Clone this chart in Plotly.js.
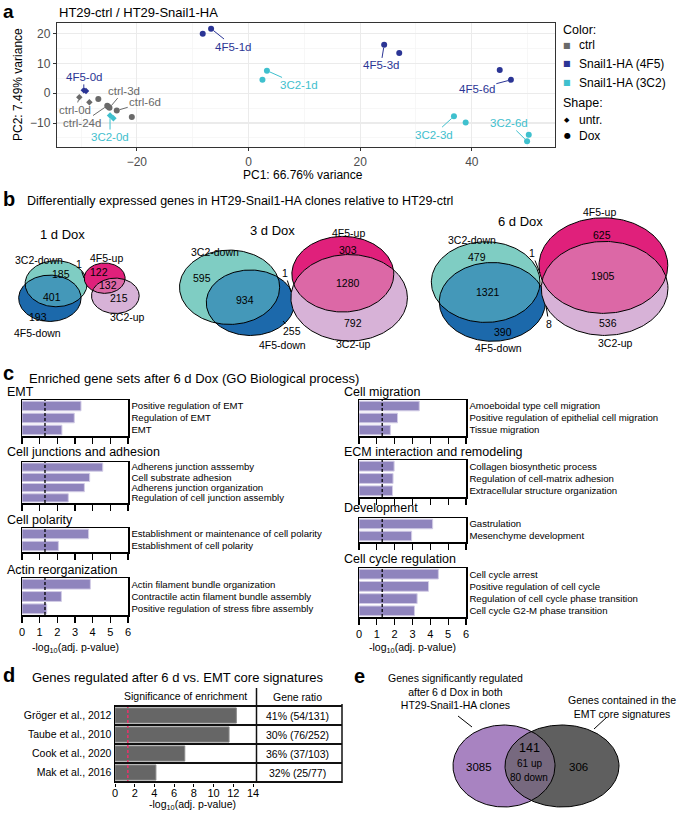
<!DOCTYPE html>
<html>
<head>
<meta charset="utf-8">
<script src="https://cdn.plot.ly/plotly-3.0.1.min.js"></script>
<style>body{margin:0;background:#fff}#fig{width:685px;height:813px}</style>
</head>
<body>
<div id="fig"></div>
<script>
const FONT = 'Liberation Sans, Arial, sans-serif';

// ---- a: PCA
const ctrlUntrX = [-30.3, -28.5], ctrlUntrY = [-1.3, -3.0];
const ctrlDoxX = [-26.9, -25.3, -24.9, -25.1, -23.6, -20.9], ctrlDoxY = [-1.9, -4.2, -4.9, -4.5, -5.8, -8.0];
const f4UntrX = [-29.5, -29.1], f4UntrY = [1.0, 0.8];
const f4DoxX = [-8.2, -6.7, 24.3, 27.0, 45.0, 47.0], f4DoxY = [20.0, 21.7, 16.3, 13.5, 7.8, 4.5];
const c3UntrX = [-24.8, -24.2], c3UntrY = [-7.5, -8.4];
const c3DoxX = [3.3, 2.5, 36.8, 38.9, 50.2, 49.9], c3DoxY = [7.6, 4.5, -7.75, -9.8, -13.9, -16.1];
// label text, label position, which point it points at
const pcaLab = ['4F5-1d', '4F5-3d', '4F5-6d', '3C2-1d', '3C2-3d', '3C2-6d', '4F5-0d', '3C2-0d', 'ctrl-0d', 'ctrl-24d', 'ctrl-3d', 'ctrl-6d'];
const pcaLabX = [-2.7, 23.7, 40.9, 9.0, 33.2, 46.6, -29.5, -24.8, -31.0, -29.8, -22.3, -18.5];
const pcaLabY = [15.7, 9.35, 1.5, 2.8, -13.9, -10.0, 5.5, -14.7, -5.6, -10.0, 0.9, -3.0];
const pcaLabGrp = ['f4Dox', 'f4Dox', 'f4Dox', 'c3Dox', 'c3Dox', 'c3Dox', 'f4Untr', 'c3Untr', 'ctrlUntr', 'ctrlDox', 'ctrlDox', 'ctrlDox'];
const pcaLabIdx = [1, 2, 5, 0, 2, 5, 0, 0, 0, 1, 2, 4];
const legColNames = ['ctrl', 'Snail1-HA (4F5)', 'Snail1-HA (3C2)'];
const legShapeNames = ['untr.', 'Dox'];

// ---- b: DEG overlaps
const days = ['1 d Dox', '3 d Dox', '6 d Dox'];
const dn3C2only = [185, 595, 479];
const dnBoth = [401, 934, 1321];
const dn4F5only = [193, 255, 390];
const up4F5only = [122, 303, 625];
const upBoth = [132, 1280, 1905];
const up3C2only = [215, 792, 536];
const crossTop = [1, 1, 1];   // 3C2-down & 4F5-up
const crossBot = [0, 0, 8];   // 4F5-down & 3C2-up

// ---- c: GO enrichment, -log10(adj. p)
const emtTerms = ['Positive regulation of EMT', 'Regulation of EMT', 'EMT'];
const emtVals = [3.34, 2.96, 2.26];
const cjTerms = ['Adherens junction asssemby', 'Cell substrate adhesion', 'Adherens junction organization', 'Regulation of cell junction assembly'];
const cjVals = [4.57, 3.83, 3.53, 2.62];
const cpTerms = ['Establishment or maintenance of cell polarity', 'Establishment of cell polarity'];
const cpVals = [3.77, 2.06];
const arTerms = ['Actin filament bundle organization', 'Contractile actin filament bundle assembly', 'Positive regulation of stress fibre assembly'];
const arVals = [3.87, 2.23, 1.40];
const cmTerms = ['Amoeboidal type cell migration', 'Positive regulation of epithelial cell migration', 'Tissue migration'];
const cmVals = [3.38, 2.16, 1.76];
const ecmTerms = ['Collagen biosynthetic process', 'Regulation of cell-matrix adhesion', 'Extracellular structure organization'];
const ecmVals = [1.97, 1.91, 1.88];
const devTerms = ['Gastrulation', 'Mesenchyme development'];
const devVals = [4.13, 2.95];
const ccTerms = ['Cell cycle arrest', 'Positive regulation of cell cycle', 'Regulation of cell cycle phase transition', 'Cell cycle G2-M phase transition'];
const ccVals = [4.45, 3.90, 3.26, 3.11];
const SIG = -Math.log10(0.05);

// ---- d: EMT core signatures
const sigRefs = ['Gröger et al., 2012', 'Taube et al., 2010', 'Cook et al., 2020', 'Mak et al., 2016'];
const sigVals = [12.31, 11.57, 7.08, 4.15];
const sigRatio = ['41% (54/131)', '30% (76/252)', '36% (37/103)', '32% (25/77)'];

// ---- e: overlap with signatures
const eOnlyDeg = 3085, eBoth = 141, eBothUp = 61, eBothDown = 80, eOnlySig = 306;

const GREY = '#6a6a6a', BLUE = '#2b3595', CYAN = '#3fc0ce';
const dx = (l, r) => [l / 685, r / 685];
const dy = (t, b) => [1 - b / 813, 1 - t / 813];
const OX = 'x11', OY = 'y11';

const traces = [];
const ann = [];
const shapes = [];

function T(x, y, text, size, o) {
  const a = {xref: OX, yref: OY, x: x, y: y, text: text, showarrow: false,
    xanchor: 'left', yanchor: 'middle', font: {family: FONT, size: size, color: '#000'}};
  return Object.assign(a, o || {});
}

// panel a traces
const groups = {
  ctrlUntr: [ctrlUntrX, ctrlUntrY, GREY, 'diamond', 5],
  ctrlDox: [ctrlDoxX, ctrlDoxY, GREY, 'circle', 6],
  f4Untr: [f4UntrX, f4UntrY, BLUE, 'diamond', 5],
  f4Dox: [f4DoxX, f4DoxY, BLUE, 'circle', 6],
  c3Untr: [c3UntrX, c3UntrY, CYAN, 'diamond', 5],
  c3Dox: [c3DoxX, c3DoxY, CYAN, 'circle', 6]
};
for (const k in groups) {
  const g = groups[k];
  traces.push({type: 'scatter', mode: 'markers', x: g[0], y: g[1], xaxis: 'x', yaxis: 'y',
    marker: {color: g[2], symbol: g[3], size: g[4]}, hoverinfo: 'skip'});
}
pcaLab.forEach((t, i) => {
  const g = groups[pcaLabGrp[i]];
  ann.push({xref: 'x', yref: 'y', axref: 'x', ayref: 'y',
    x: g[0][pcaLabIdx[i]], y: g[1][pcaLabIdx[i]], ax: pcaLabX[i], ay: pcaLabY[i],
    text: t, showarrow: true, arrowhead: 0, arrowwidth: 1, arrowcolor: g[2], standoff: 3,
    font: {family: FONT, size: 11.5, color: g[2]}});
});
ann.push(T(1, 11, '<b>a</b>', 19));
ann.push(T(57, 12, 'HT29-ctrl / HT29-Snail1-HA', 13));
ann.push(T(303, 175, 'PC1: 66.76% variance', 12, {xanchor: 'center'}));
ann.push(T(18, 85, 'PC2: 7.49% variance', 12, {xanchor: 'center', textangle: -90}));
// legend
ann.push(T(561, 30, 'Color:', 12.5));
[GREY, BLUE, CYAN].forEach((c, i) => {
  ann.push(T(567, 45 + i * 18.8, '■', 8, {xanchor: 'center', font: {family: 'DejaVu Sans', size: 8, color: c}}));
  ann.push(T(577, 45 + i * 18.8, legColNames[i], 12));
});
ann.push(T(561, 103, 'Shape:', 12.5));
['◆', '●'].forEach((s, i) => {
  ann.push(T(567, 120 + i * 15.5, s, i ? 8 : 7, {xanchor: 'center', font: {family: 'DejaVu Sans', size: i ? 8 : 7, color: '#000'}}));
  ann.push(T(577, 120 + i * 15.5, legShapeNames[i], 12));
});

// ---- panel b venns (area proportional pairs, drawn as ellipses)
const KX = 1.28, KY = 0.95, SPREAD = 1.3;
function lens(r1, r2, d) {
  if (d >= r1 + r2) return 0;
  if (d <= Math.abs(r1 - r2)) return Math.PI * Math.min(r1, r2) ** 2;
  const a = r1 * r1 * Math.acos((d * d + r1 * r1 - r2 * r2) / (2 * d * r1));
  const b = r2 * r2 * Math.acos((d * d + r2 * r2 - r1 * r1) / (2 * d * r2));
  const c = 0.5 * Math.sqrt((-d + r1 + r2) * (d + r1 - r2) * (d - r1 + r2) * (d + r1 + r2));
  return a + b - c;
}
function centreDist(n1, n2, n12) {
  const r1 = Math.sqrt(n1), r2 = Math.sqrt(n2);
  let lo = Math.abs(r1 - r2), hi = r1 + r2;
  for (let i = 0; i < 60; i++) {
    const m = (lo + hi) / 2;
    if (lens(r1, r2, m) > Math.PI * n12) lo = m; else hi = m;
  }
  return (lo + hi) / 2;
}
function vennPair(mid, dir, nA, nB, nAB) {
  const d = SPREAD * centreDist(nA, nB, nAB);
  const L = Math.hypot(dir[0], dir[1]);
  const ox = KX * d * dir[0] / L / 2, oy = KY * d * dir[1] / L / 2;
  const rA = Math.sqrt(nA), rB = Math.sqrt(nB);
  return [{cx: mid[0] - ox, cy: mid[1] - oy, rx: KX * rA, ry: KY * rA},
          {cx: mid[0] + ox, cy: mid[1] + oy, rx: KX * rB, ry: KY * rB}];
}
function ellPts(e, n) {
  const xs = [], ys = [];
  for (let i = 0; i <= n; i++) {
    const t = 2 * Math.PI * i / n;
    xs.push(e.cx + e.rx * Math.cos(t)); ys.push(e.cy + e.ry * Math.sin(t));
  }
  return [xs, ys];
}
function inside(e, x, y) {
  const a = (x - e.cx) / e.rx, b = (y - e.cy) / e.ry;
  return a * a + b * b <= 1;
}
function interPts(A, B, n) {
  const p = [];
  for (let i = 0; i < n; i++) {
    const t = 2 * Math.PI * i / n;
    let x = A.cx + A.rx * Math.cos(t), y = A.cy + A.ry * Math.sin(t);
    if (inside(B, x, y)) p.push([x, y]);
    x = B.cx + B.rx * Math.cos(t); y = B.cy + B.ry * Math.sin(t);
    if (inside(A, x, y)) p.push([x, y]);
  }
  const mx = p.reduce((s, q) => s + q[0], 0) / p.length;
  const my = p.reduce((s, q) => s + q[1], 0) / p.length;
  p.sort((a, b) => Math.atan2(a[1] - my, a[0] - mx) - Math.atan2(b[1] - my, b[0] - mx));
  p.push(p[0]);
  return [p.map(q => q[0]), p.map(q => q[1])];
}
function drawPair(A, B, cA, cB, cAB) {
  [[A, cA], [B, cB]].forEach(([e, c]) => {
    const [xs, ys] = ellPts(e, 200);
    traces.push({type: 'scatter', mode: 'lines', x: xs, y: ys, xaxis: OX, yaxis: OY, fill: 'toself',
      fillcolor: c, line: {width: 0, color: c}, hoverinfo: 'skip'});
  });
  const [ix, iy] = interPts(A, B, 720);
  traces.push({type: 'scatter', mode: 'lines', x: ix, y: iy, xaxis: OX, yaxis: OY, fill: 'toself',
    fillcolor: cAB, line: {width: 0, color: cAB}, hoverinfo: 'skip'});
  [A, B].forEach(e => {
    const [xs, ys] = ellPts(e, 200);
    traces.push({type: 'scatter', mode: 'lines', x: xs, y: ys, xaxis: OX, yaxis: OY,
      line: {width: 1, color: '#000'}, hoverinfo: 'skip'});
  });
}

// placement of the three diagrams (pixel midpoints and directions)
const dnMid = [[53, 291], [240, 295], [489, 292]];
const dnDir = [[-0.32, 1], [1, 1], [0.25, 1]];
const upMid = [[110, 287], [346, 286], [604, 277]];
const upDir = [[0.45, 1], [0.2, 1], [0.04, 1]];
const dayTitlePos = [[62, 234], [272, 230], [520, 221]];
const setLabPos = [
  [[39, 260], [37, 333], [106, 258], [127, 317]],
  [[215, 252], [282, 345], [348, 233], [353, 344]],
  [[472, 240], [498, 348], [599, 212], [615, 343]]];
const cntPos = [
  [[61, 274], [52, 297], [38, 317], [99, 272], [108, 285], [119, 298]],
  [[202, 278], [245, 300], [292, 331], [348, 250], [348, 283], [353, 323]],
  [[477, 257], [488, 292], [503, 332], [602, 235], [603, 276], [608, 323]]];

for (let i = 0; i < 3; i++) {
  const [A, B] = vennPair(dnMid[i], dnDir[i], dn3C2only[i] + dnBoth[i] + crossTop[i], dn4F5only[i] + dnBoth[i] + crossBot[i], dnBoth[i]);
  drawPair(A, B, '#7fcdc3', '#1c69ab', '#4498b9');
  const [C, D] = vennPair(upMid[i], upDir[i], up4F5only[i] + upBoth[i] + crossTop[i], up3C2only[i] + upBoth[i] + crossBot[i], upBoth[i]);
  drawPair(C, D, '#e0207b', '#d7b2d7', '#dc68a6');
  ann.push(T(dayTitlePos[i][0], dayTitlePos[i][1], days[i], 13, {xanchor: 'center'}));
  ['3C2-down', '4F5-down', '4F5-up', '3C2-up'].forEach((s, j) => {
    ann.push(T(setLabPos[i][j][0], setLabPos[i][j][1], s, 10.5, {xanchor: 'center'}));
  });
  [dn3C2only[i], dnBoth[i], dn4F5only[i], up4F5only[i], upBoth[i], up3C2only[i]].forEach((n, j) => {
    if (i === 1 && j === 2) return;
    ann.push(T(cntPos[i][j][0], cntPos[i][j][1], String(n), 10.5, {xanchor: 'center'}));
  });
}
function lead(tx, ty, lx, ly, text) {
  ann.push({xref: OX, yref: OY, axref: OX, ayref: OY, x: tx, y: ty, ax: lx, ay: ly, text: text,
    showarrow: true, arrowhead: 0, arrowwidth: 1, arrowcolor: '#000', standoff: 0,
    font: {family: FONT, size: 10.5, color: '#000'}});
}
lead(84, 278, 79, 264, String(crossTop[0]));
lead(291, 292, 285, 273, String(crossTop[1]));
lead(540, 273, 532, 253, String(crossTop[2]));
lead(283, 321, 292, 331, String(dn4F5only[1]));
lead(546, 306, 549, 324, String(crossBot[2]));
ann.push(T(1, 199, '<b>b</b>', 20));
ann.push(T(25, 201, 'Differentially expressed genes in HT29-Snail1-HA clones relative to HT29-ctrl', 12.5));

// ---- panel c bars
const cPanels = [
  ['EMT', emtTerms, emtVals, 22, 128, 400, 436, 392],
  ['Cell junctions and adhesion', cjTerms, cjVals, 22, 128, 462, 503, 452],
  ['Cell polarity', cpTerms, cpVals, 22, 128, 528, 552, 520],
  ['Actin reorganization', arTerms, arVals, 22, 128, 578, 615, 570],
  ['Cell migration', cmTerms, cmVals, 359, 466, 400, 436, 392],
  ['ECM interaction and remodeling', ecmTerms, ecmVals, 359, 466, 460, 497, 452],
  ['Development', devTerms, devVals, 359, 466, 518, 542, 508],
  ['Cell cycle regulation', ccTerms, ccVals, 359, 466, 568, 617, 559]
];
const layout = {
  width: 685, height: 813, margin: {l: 0, r: 0, t: 0, b: 0},
  paper_bgcolor: '#fff', plot_bgcolor: 'rgba(0,0,0,0)', showlegend: false,
  font: {family: FONT, size: 11, color: '#000'},
  xaxis: {domain: dx(57, 555), range: [-34.3, 54.9], dtick: 20, anchor: 'y',
    showgrid: true, gridcolor: '#ebebeb', gridwidth: 1.1, zeroline: false,
    minor: {dtick: 10, showgrid: true, gridcolor: '#f4f4f4', gridwidth: 0.7},
    showline: true, mirror: true, linecolor: '#333', linewidth: 1.2,
    ticks: 'outside', ticklen: 3, tickcolor: '#333', tickfont: {size: 12, color: '#4d4d4d'}},
  yaxis: {domain: dy(23, 147), range: [-18.05, 23.6], dtick: 10, anchor: 'x',
    showgrid: true, gridcolor: '#ebebeb', gridwidth: 1.1, zeroline: false,
    minor: {dtick: 5, showgrid: true, gridcolor: '#f4f4f4', gridwidth: 0.7},
    showline: true, mirror: true, linecolor: '#333', linewidth: 1.2,
    ticks: 'outside', ticklen: 3, tickcolor: '#333', tickfont: {size: 12, color: '#4d4d4d'}},
  annotations: ann, shapes: shapes
};
cPanels.forEach((p, i) => {
  const n = i + 2, bottom = (i === 3 || i === 7);
  traces.push({type: 'bar', orientation: 'h', x: p[2], y: p[1], xaxis: 'x' + n, yaxis: 'y' + n,
    marker: {color: '#8f84bd', line: {color: '#d2cce6', width: 1}}, width: 0.8, hoverinfo: 'skip'});
  layout['xaxis' + n] = {domain: dx(p[3], p[4]), range: [0, 6], dtick: 1, anchor: 'y' + n,
    showgrid: false, zeroline: false, showline: true, mirror: true, linecolor: '#000', linewidth: 1.5,
    ticks: 'outside', ticklen: 6, tickwidth: 1.3, tickcolor: '#000', showticklabels: bottom,
    tickfont: {size: 11}, fixedrange: true};
  layout['yaxis' + n] = {domain: dy(p[5], p[6]), type: 'category', autorange: 'reversed', anchor: 'x' + n,
    tickmode: 'array', tickvals: p[1], ticktext: p[1],
    side: 'right', showline: true, mirror: true, linecolor: '#000', linewidth: 1.5, ticks: '',
    showgrid: false, tickfont: {size: 9.6}, fixedrange: true};
  shapes.push({type: 'line', xref: 'x' + n, yref: 'y' + n + ' domain', x0: SIG, x1: SIG, y0: 0, y1: 1,
    line: {color: '#000', width: 1.3, dash: '3px,2px'}});
  ann.push(T(p[3] - 17, p[7], p[0], 12.5));
});
ann.push(T(1, 373, '<b>c</b>', 20));
ann.push(T(27, 378, 'Enriched gene sets after 6 d Dox (GO Biological process)', 13));
ann.push(T(75, 648, '-log<sub>10</sub>(adj. p-value)', 10.5, {xanchor: 'center'}));
ann.push(T(412, 648, '-log<sub>10</sub>(adj. p-value)', 10.5, {xanchor: 'center'}));

// ---- panel d
traces.push({type: 'bar', orientation: 'h', x: sigVals, y: sigRefs, xaxis: 'x10', yaxis: 'y10',
  marker: {color: '#666666', line: {color: '#8a8a8a', width: 1}}, width: 0.8, hoverinfo: 'skip'});
layout.xaxis10 = {domain: dx(115, 253), range: [0, 14], dtick: 2, anchor: 'y10', showgrid: false, zeroline: false,
  showline: false, ticks: 'outside', ticklen: 3, tickcolor: '#000', tickfont: {size: 11},
  ticklabelstandoff: -3, fixedrange: true};
layout.yaxis10 = {domain: dy(705, 783), type: 'category', autorange: 'reversed', anchor: 'x10',
  showline: true, linecolor: '#000', linewidth: 1.5, ticks: '', tickfont: {size: 10.5}, fixedrange: true};
shapes.push({type: 'line', xref: 'x10', yref: 'y10 domain', x0: SIG, x1: SIG, y0: 0, y1: 1,
  line: {color: '#e8336b', width: 1.5, dash: '3px,2px'}});
for (let k = 0; k <= sigRefs.length; k++) {
  shapes.push({type: 'line', xref: OX, yref: 'y10', x0: 115, x1: 342, y0: k - 0.5, y1: k - 0.5,
    line: {color: '#111', width: 2}});
}
shapes.push({type: 'line', xref: OX, yref: OY, x0: 256.5, x1: 256.5, y0: 688, y1: 783, line: {color: '#111', width: 1.5}});
shapes.push({type: 'line', xref: OX, yref: OY, x0: 342, x1: 342, y0: 704, y1: 783, line: {color: '#111', width: 1.5}});
sigRatio.forEach((r, i) => ann.push({xref: OX, yref: 'y10', x: 297, y: sigRefs[i], text: r, showarrow: false,
  xanchor: 'center', yanchor: 'middle', font: {family: FONT, size: 10.5, color: '#000'}}));
ann.push(T(1, 675, '<b>d</b>', 20));
ann.push(T(30, 677, 'Genes regulated after 6 d vs. EMT core signatures', 13));
ann.push(T(185, 696, 'Significance of enrichment', 10.5, {xanchor: 'center'}));
ann.push(T(297, 697, 'Gene ratio', 10.5, {xanchor: 'center'}));
ann.push(T(192, 805, '-log<sub>10</sub>(adj. p-value)', 10.5, {xanchor: 'center'}));

// ---- panel e
const eA = {cx: 504, cy: 766, rx: 51, ry: 41}, eB = {cx: 562, cy: 766, rx: 57, ry: 41};
drawPair(eA, eB, '#a883c1', '#5f5f5f', '#77697f');
ann.push(T(352, 676, '<b>e</b>', 20));
ann.push(T(455, 691, 'Genes significantly regulated<br>after 6 d Dox in both<br>HT29-Snail1-HA clones', 10.5,
  {xanchor: 'center', align: 'center'}));
ann.push(T(622, 707, 'Genes contained in the<br>EMT core signatures', 10.5, {xanchor: 'center', align: 'center'}));
shapes.push({type: 'line', xref: OX, yref: OY, x0: 472, y0: 727, x1: 458, y1: 716, line: {color: '#000', width: 1}});
shapes.push({type: 'line', xref: OX, yref: OY, x0: 594, y0: 729, x1: 607, y1: 717, line: {color: '#000', width: 1}});
ann.push(T(479, 767, String(eOnlyDeg), 11.5, {xanchor: 'center'}));
ann.push(T(529, 748, String(eBoth), 12.5, {xanchor: 'center'}));
ann.push(T(529, 763, eBothUp + ' up', 10, {xanchor: 'center'}));
ann.push(T(529, 777, eBothDown + ' down', 10, {xanchor: 'center'}));
ann.push(T(578, 767, String(eOnlySig), 11.5, {xanchor: 'center'}));

// pixel overlay axis
layout.xaxis11 = {domain: [0, 1], range: [0, 685], visible: false, fixedrange: true, anchor: 'y11'};
layout.yaxis11 = {domain: [0, 1], range: [813, 0], visible: false, fixedrange: true, anchor: 'x11'};

Plotly.newPlot('fig', traces, layout, {staticPlot: true});
</script>
</body>
</html>
